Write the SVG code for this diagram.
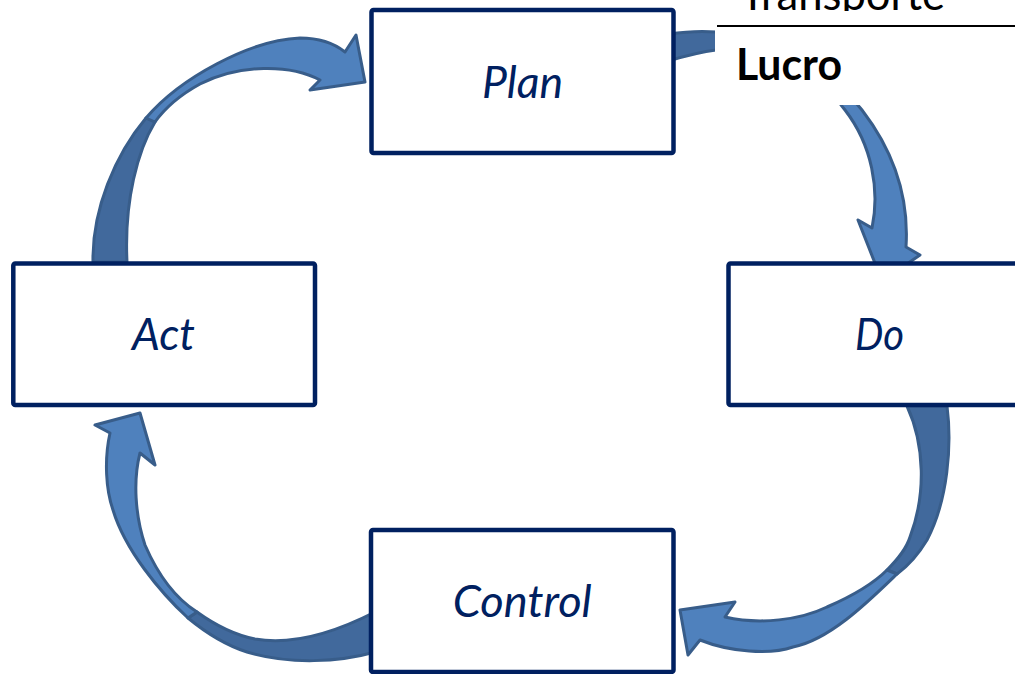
<svg xmlns="http://www.w3.org/2000/svg" width="1015" height="674" viewBox="0 0 1015 674">
  <defs>
    <style>
      .box { fill: #ffffff; stroke: #002060; stroke-width: 4.5; stroke-linejoin: round; }
      .lbl { font-family: Lato, "Open Sans", "Liberation Sans", sans-serif; font-style: italic; font-size: 44px; fill: #002060; text-anchor: middle; }
      .front { fill: #4F81BD; stroke: #385D8A; stroke-width: 3; stroke-linejoin: round; }
      .back { fill: #41699C; stroke: #385D8A; stroke-width: 3; stroke-linejoin: round; }
      .cell { font-family: Lato, "Open Sans", "Liberation Sans", sans-serif; font-size: 44px; fill: #000000; }
    </style>
    <clipPath id="topClip">
      <rect x="700" y="0" width="315" height="11"/>
    </clipPath>
  </defs>

  <!-- curved block arrows of the cycle -->
  <g id="connectors">
    <!-- Act to Plan -->
    <g id="arrow-act-plan">
      <path class="back" d="M 93,262 C 92,210 115,155 146,118 L 155,122 C 138,150 124,200 127,262 Z"/>
      <path class="front" d="M 146,118 C 180,78 250,40 300,38 C 320,38 335,44 345,52 L 356,35 L 365,82 L 310,90 L 320,80 C 290,64 240,64 200,84 C 180,95 165,108 155,122 Z"/>
    </g>
    <!-- Plan to Do -->
    <g id="arrow-plan-do">
      <path class="back" d="M 668,34 C 690,31 705,31 716,32 C 745,32 770,40 790,52 L 786,60 C 765,52 740,48 716,50 C 700,52 685,56 668,61 Z"/>
      <path class="front" d="M 790,52 C 825,72 850,95 862,110 C 885,140 910,185 906,247 L 920,255 L 882,281 L 858,220 L 872,228 C 880,190 872,145 845,110 C 830,90 810,72 786,60 Z"/>
    </g>
    <!-- Do to Control -->
    <g id="arrow-do-control">
      <path class="back" d="M 947,406 C 952,445 948,500 927,540 C 918,555 908,566 897,574 L 887,570 C 897,560 906,550 910,537 C 926,495 925,445 907,406 Z"/>
      <path class="front" d="M 897,574 C 870,600 830,640 793,647 C 770,655 730,652 700,640 L 688,655 L 680,610 L 735,602 L 725,617 C 760,625 800,620 827,607 C 850,597 872,585 887,570 Z"/>
    </g>
    <!-- Control to Act -->
    <g id="arrow-control-act">
      <path class="back" d="M 375,652 C 340,662 290,665 247,652 C 225,645 205,632 188,618 L 197,612 C 215,625 235,635 255,639 C 290,645 330,635 375,612 Z"/>
      <path class="front" d="M 188,618 C 160,592 125,550 113,510 C 106,490 104,460 110,433 L 95,425 L 140,413 L 155,465 L 140,453 C 133,480 135,515 145,545 C 158,575 175,598 197,612 Z"/>
    </g>
  </g>

  <g id="node-plan">
    <rect class="box" x="371.5" y="10" width="302" height="143" rx="2"/>
    <text class="lbl" x="522.5" y="98" textLength="81" lengthAdjust="spacingAndGlyphs">Plan</text>
  </g>
  <g id="node-act">
    <rect class="box" x="13.3" y="263.5" width="301.7" height="141.5" rx="2"/>
    <text class="lbl" x="163.5" y="350" textLength="63" lengthAdjust="spacingAndGlyphs">Act</text>
  </g>
  <g id="node-do">
    <rect class="box" x="728.5" y="263.5" width="302" height="141.5" rx="2"/>
    <text class="lbl" x="879.5" y="350" textLength="49" lengthAdjust="spacingAndGlyphs">Do</text>
  </g>
  <g id="node-control">
    <rect class="box" x="371" y="530" width="302.5" height="142" rx="2"/>
    <text class="lbl" x="522.3" y="617" textLength="139" lengthAdjust="spacingAndGlyphs">Control</text>
  </g>

  <!-- table fragment in the upper right corner -->
  <g id="table-fragment">
    <rect x="715" y="0" width="300" height="105" fill="#ffffff"/>
    <text class="cell" x="740" y="10" textLength="205" lengthAdjust="spacingAndGlyphs" clip-path="url(#topClip)">Transporte</text>
    <line x1="717" y1="26" x2="1015" y2="26" stroke="#000000" stroke-width="2"/>
    <text class="cell" x="736" y="80" font-weight="bold" textLength="106" lengthAdjust="spacingAndGlyphs">Lucro</text>
  </g>
</svg>
